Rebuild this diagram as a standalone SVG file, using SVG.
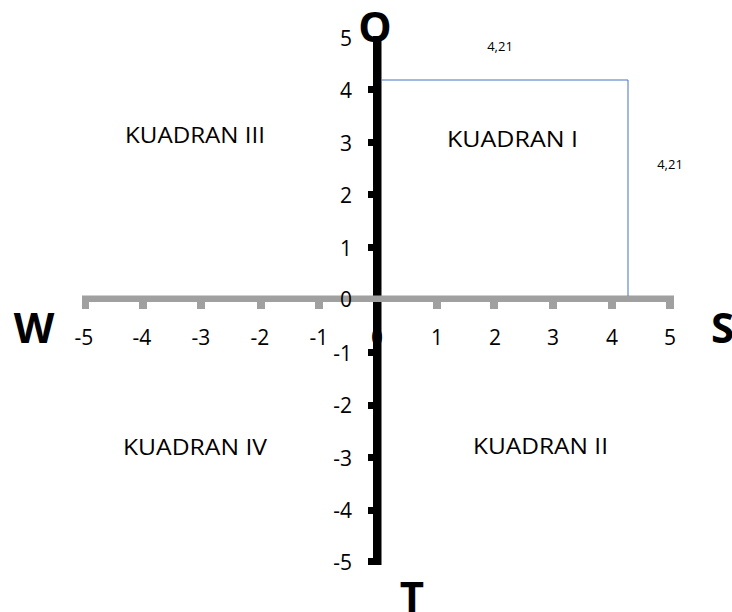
<svg xmlns="http://www.w3.org/2000/svg" width="732" height="612" viewBox="0 0 732 612">
<style>
.num{font-family:"Open Sans","Liberation Sans",sans-serif;font-size:21px;fill:#000}
.yl{text-anchor:end}
.xl{text-anchor:middle}
.quad{font-family:"Open Sans","Liberation Sans",sans-serif;font-size:22px;fill:#000}
.dir{font-family:"Open Sans","Liberation Sans",sans-serif;font-size:42px;font-weight:bold;fill:#000}
.small{font-family:"Open Sans","Liberation Sans",sans-serif;font-size:13px;fill:#000;text-anchor:middle}
.ytick{fill:#000}
.xtick{fill:#a0a0a0}
</style>
<rect width="732" height="612" fill="#fff"/>
<g id="origin-label"><text class="num xl" x="377" y="345">0</text></g>
<g id="y-axis">
<rect x="373" y="36" width="8.5" height="529" fill="#000"/>
<rect class="ytick" x="368" y="86" width="6" height="7"/>
<rect class="ytick" x="368" y="139" width="6" height="7"/>
<rect class="ytick" x="368" y="191" width="6" height="7"/>
<rect class="ytick" x="368" y="244" width="6" height="7"/>
<rect class="ytick" x="368" y="349" width="6" height="7"/>
<rect class="ytick" x="368" y="402" width="6" height="7"/>
<rect class="ytick" x="368" y="454" width="6" height="7"/>
<rect class="ytick" x="368" y="507" width="6" height="7"/>
<rect class="ytick" x="368" y="558" width="13" height="7"/>
</g>
<g id="x-axis">
<rect x="82" y="295.5" width="592" height="6.5" fill="#a0a0a0"/>
<rect class="xtick" x="82" y="298" width="7" height="11"/>
<rect class="xtick" x="139" y="298" width="8" height="11"/>
<rect class="xtick" x="197" y="298" width="8" height="11"/>
<rect class="xtick" x="257" y="298" width="8" height="11"/>
<rect class="xtick" x="315" y="298" width="8" height="11"/>
<rect class="xtick" x="433" y="298" width="8" height="11"/>
<rect class="xtick" x="490" y="298" width="8" height="11"/>
<rect class="xtick" x="549" y="298" width="8" height="11"/>
<rect class="xtick" x="608" y="298" width="8" height="11"/>
<rect class="xtick" x="666" y="298" width="8" height="11"/>
</g>
<g id="y-labels">
<text class="num yl" x="352" y="46">5</text>
<text class="num yl" x="352" y="98">4</text>
<text class="num yl" x="352" y="151">3</text>
<text class="num yl" x="352" y="203">2</text>
<text class="num yl" x="352" y="256">1</text>
<text class="num yl" x="352" y="307">0</text>
<text class="num yl" x="352" y="361">-1</text>
<text class="num yl" x="352" y="413">-2</text>
<text class="num yl" x="352" y="466">-3</text>
<text class="num yl" x="352" y="518">-4</text>
<text class="num yl" x="352" y="570">-5</text>
</g>
<g id="x-labels">
<text class="num xl" x="84" y="345">-5</text>
<text class="num xl" x="142" y="345">-4</text>
<text class="num xl" x="201" y="345">-3</text>
<text class="num xl" x="260" y="345">-2</text>
<text class="num xl" x="319" y="345">-1</text>
<text class="num xl" x="437" y="345">1</text>
<text class="num xl" x="495" y="345">2</text>
<text class="num xl" x="553" y="345">3</text>
<text class="num xl" x="612" y="345">4</text>
<text class="num xl" x="670" y="345">5</text>
</g>
<g id="point-box" fill="none" stroke="#4472c4" stroke-width="1">
<path d="M381.5 80 H628 V296"/>
</g>
<g id="value-labels">
<text class="small" x="500" y="51">4,21</text>
<text class="small" x="670" y="169">4,21</text>
</g>
<g id="quadrants">
<text class="quad" x="447" y="147" textLength="131" lengthAdjust="spacingAndGlyphs">KUADRAN I</text>
<text class="quad" x="473" y="454" textLength="135" lengthAdjust="spacingAndGlyphs">KUADRAN II</text>
<text class="quad" x="125" y="143" textLength="140" lengthAdjust="spacingAndGlyphs">KUADRAN III</text>
<text class="quad" x="123" y="455" textLength="144" lengthAdjust="spacingAndGlyphs">KUADRAN IV</text>
</g>
<g id="directions">
<text class="dir" x="375" y="42" text-anchor="middle">O</text>
<text class="dir" x="34" y="343" text-anchor="middle">W</text>
<text class="dir" x="711" y="343">S</text>
<text class="dir" x="412" y="612" text-anchor="middle">T</text>
</g>
</svg>
